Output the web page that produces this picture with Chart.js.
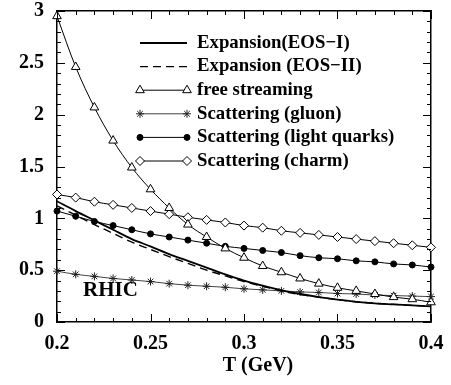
<!DOCTYPE html>
<html>
<head>
<meta charset="utf-8">
<script src="https://cdn.jsdelivr.net/npm/chart.js@4/dist/chart.umd.min.js"></script>
<style>
  html, body { margin: 0; padding: 0; background: #fff; }
  #wrap { width: 451px; height: 385px; }
</style>
</head>
<body>
<div id="wrap"><canvas id="c" width="451" height="385"></canvas></div>
<script>
// temperature grid (GeV)
const temps = [0.20, 0.21, 0.22, 0.23, 0.24, 0.25, 0.26, 0.27, 0.28, 0.29, 0.30,
               0.31, 0.32, 0.33, 0.34, 0.35, 0.36, 0.37, 0.38, 0.39, 0.40];

const expansionEos1 = [1.165, 1.07, 0.98, 0.89, 0.80, 0.73, 0.655, 0.59, 0.525, 0.46, 0.40,
                       0.35, 0.305, 0.27, 0.24, 0.215, 0.195, 0.18, 0.17, 0.16, 0.15];
const expansionEos2 = [1.12, 1.03, 0.94, 0.855, 0.77, 0.70, 0.63, 0.565, 0.50, 0.445, 0.39,
                       0.345, 0.30, 0.265, 0.24, 0.215, 0.195, 0.18, 0.17, 0.16, 0.15];
const freeStreaming = [2.95, 2.46, 2.07, 1.75, 1.49, 1.28, 1.10, 0.94, 0.82, 0.71, 0.62,
                       0.54, 0.48, 0.42, 0.37, 0.33, 0.30, 0.27, 0.24, 0.22, 0.19];
const scatGluon = [0.49, 0.46, 0.44, 0.42, 0.405, 0.39, 0.37, 0.355, 0.345, 0.335, 0.32,
                   0.31, 0.30, 0.29, 0.285, 0.275, 0.27, 0.26, 0.255, 0.25, 0.245];
const scatLight = [1.07, 1.02, 0.97, 0.93, 0.89, 0.85, 0.82, 0.79, 0.76, 0.73, 0.71,
                   0.69, 0.67, 0.64, 0.62, 0.61, 0.59, 0.58, 0.56, 0.55, 0.53];
const scatCharm = [1.23, 1.20, 1.16, 1.13, 1.10, 1.07, 1.04, 1.01, 0.985, 0.96, 0.93,
                   0.91, 0.88, 0.86, 0.84, 0.82, 0.80, 0.78, 0.76, 0.74, 0.72];

const seriesNames = ['Expansion(EOS\u2212I)', 'Expansion (EOS\u2212II)', 'free streaming',
                     'Scattering (gluon)', 'Scattering (light quarks)', 'Scattering (charm)'];
const xTicks = [0.2, 0.25, 0.3, 0.35, 0.4];
const yTicks = [0, 0.5, 1, 1.5, 2, 2.5, 3];

const serif = '"Liberation Serif", "DejaVu Serif", serif';

const pts = (ys) => ys.map((v, i) => ({x: temps[i], y: v}));

const base = {
  borderColor: '#000', borderWidth: 1, backgroundColor: '#fff',
  pointBorderColor: '#000', pointBorderWidth: 1,
  cubicInterpolationMode: 'monotone', clip: 10
};

const datasets = [
  Object.assign({}, base, {label: seriesNames[0], data: pts(expansionEos1), borderWidth: 1.8, pointRadius: 0}),
  Object.assign({}, base, {label: seriesNames[1], data: pts(expansionEos2), borderWidth: 1.4, borderDash: [8, 5], pointRadius: 0}),
  Object.assign({}, base, {label: seriesNames[2], data: pts(freeStreaming), pointStyle: 'triangle', pointRadius: 5, pointBackgroundColor: '#fff'}),
  Object.assign({}, base, {label: seriesNames[3], data: pts(scatGluon), borderColor: '#444', pointStyle: 'star', pointRadius: 4, pointBorderColor: '#222'}),
  Object.assign({}, base, {label: seriesNames[4], data: pts(scatLight), pointStyle: 'circle', pointRadius: 3, pointBackgroundColor: '#000'}),
  Object.assign({}, base, {label: seriesNames[5], data: pts(scatCharm), pointStyle: 'rectRot', pointRadius: 4.5, pointBackgroundColor: '#fff'})
];

// axis borders make the box; top and right are empty mirror axes
const border = {display: true, color: '#000', width: 1.5};
const mirror = (pos, min, max, fit) => ({
  type: 'linear', position: pos, min, max,
  afterFit: fit,
  grid: {display: true, drawOnChartArea: false, drawTicks: false},
  border,
  ticks: {display: false}
});

// inward ticks on all four sides, legend, axis title and annotation
const decorations = {
  id: 'decorations',
  afterDraw(chart) {
    const ctx = chart.ctx;
    const a = chart.chartArea;
    const sx = chart.scales.x, sy = chart.scales.y;
    ctx.save();
    ctx.strokeStyle = '#000';
    ctx.lineWidth = 1;
    ctx.beginPath();
    for (let i = 0; i <= 20; i++) {
      const px = Math.round(sx.getPixelForValue(0.2 + i * 0.01)) + 0.5;
      const len = i % 5 === 0 ? 8 : 4;
      ctx.moveTo(px, a.bottom); ctx.lineTo(px, a.bottom - len);
      ctx.moveTo(px, a.top); ctx.lineTo(px, a.top + len);
    }
    for (let i = 0; i <= 30; i++) {
      const py = Math.round(sy.getPixelForValue(i * 0.1)) + 0.5;
      const len = i % 5 === 0 ? 8 : 4;
      ctx.moveTo(a.left, py); ctx.lineTo(a.left + len, py);
      ctx.moveTo(a.right, py); ctx.lineTo(a.right - len, py);
    }
    ctx.stroke();
    ctx.restore();

    // legend: line sample with a marker at each end
    const lx0 = 140, lx1 = 187, tx = 197;
    ctx.save();
    ctx.font = 'bold 18.8px ' + serif;
    ctx.textBaseline = 'middle';
    ctx.fillStyle = '#000';
    chart.data.datasets.forEach((ds, i) => {
      const ly = 43 + i * 23.6;
      ctx.save();
      ctx.strokeStyle = ds.borderColor;
      ctx.lineWidth = ds.borderWidth;
      ctx.setLineDash(ds.borderDash || []);
      ctx.beginPath();
      ctx.moveTo(lx0, ly); ctx.lineTo(lx1, ly);
      ctx.stroke();
      ctx.restore();
      if (ds.pointRadius > 0) {
        ctx.save();
        ctx.strokeStyle = ds.pointBorderColor;
        ctx.fillStyle = ds.pointBackgroundColor || '#fff';
        ctx.lineWidth = 1;
        const opts = {pointStyle: ds.pointStyle, radius: ds.pointRadius, rotation: 0, borderWidth: 1};
        Chart.helpers.drawPoint(ctx, opts, lx0, ly);
        Chart.helpers.drawPoint(ctx, opts, lx1, ly);
        ctx.restore();
      }
      ctx.fillText(ds.label, tx, ly);
    });

    ctx.font = 'bold 21px ' + serif;
    ctx.textAlign = 'left';
    ctx.fillText('RHIC', 83, 291);

    ctx.font = 'bold 20px ' + serif;
    ctx.textAlign = 'center';
    ctx.fillText('T (GeV)', 258, 366);
    ctx.restore();
  }
};

new Chart(document.getElementById('c'), {
  type: 'line',
  data: {datasets},
  options: {
    responsive: false,
    animation: false,
    layout: {padding: {top: 11, right: 20, left: 0, bottom: 0}},
    plugins: {legend: {display: false}, tooltip: {enabled: false}},
    scales: {
      x: {
        type: 'linear', position: 'bottom', min: 0.2, max: 0.4,
        afterBuildTicks: (s) => { s.ticks = xTicks.map(v => ({value: v})); },
        afterFit: (s) => { s.height = 63; s.paddingLeft = 0; s.paddingRight = 0; },
        grid: {display: true, drawOnChartArea: false, drawTicks: false},
        border,
        ticks: {
          padding: 10, color: '#000', maxRotation: 0,
          font: {family: serif, size: 20, weight: 'bold'},
          callback: (v) => String(+v.toFixed(2))
        }
      },
      y: {
        type: 'linear', position: 'left', min: 0, max: 3,
        afterBuildTicks: (s) => { s.ticks = yTicks.map(v => ({value: v})); },
        afterFit: (s) => { s.width = 57; s.paddingTop = 0; s.paddingBottom = 0; },
        grid: {display: true, drawOnChartArea: false, drawTicks: false},
        border,
        ticks: {
          padding: 13, color: '#000',
          font: {family: serif, size: 20, weight: 'bold'},
          callback: (v) => String(+v.toFixed(1))
        }
      },
      xTop: mirror('top', 0.2, 0.4, (s) => { s.height = 0; s.paddingLeft = 0; s.paddingRight = 0; }),
      yRight: mirror('right', 0, 3, (s) => { s.width = 0; s.paddingTop = 0; s.paddingBottom = 0; })
    }
  },
  plugins: [decorations]
});
</script>
</body>
</html>
